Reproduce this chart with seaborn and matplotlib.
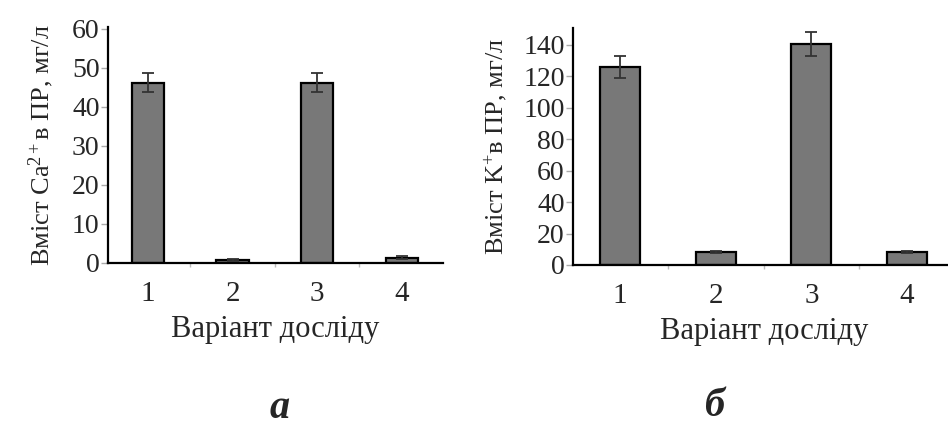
import matplotlib
matplotlib.use("Agg")
import matplotlib.pyplot as plt
import seaborn as sns
import pandas as pd
from matplotlib.ticker import FixedLocator

# ---- data ----
variants = ["1", "2", "3", "4"]
ca_values = [46.2, 0.8, 46.2, 1.4]
ca_errors = [2.4, 0.2, 2.4, 0.3]
k_values = [125.5, 8.0, 140.5, 8.0]
k_errors = [7.0, 0.6, 7.5, 0.6]
ca_ticks = [0, 10, 20, 30, 40, 50, 60]
k_ticks = [0, 20, 40, 60, 80, 100, 120, 140]
xlabel_text = "Варіант досліду"
ca_ylabel = "Вміст Ca$^{2+}$в ПР, мг/л"
k_ylabel = "Вміст K$^{+}$в ПР, мг/л"
panel_letters = ["а", "б"]

sns.set_theme(style="white")
plt.rcParams["font.family"] = ["Liberation Serif", "DejaVu Serif"]
plt.rcParams["mathtext.fontset"] = "custom"
plt.rcParams["mathtext.rm"] = "Liberation Serif"
plt.rcParams["mathtext.it"] = "Liberation Serif:italic"
plt.rcParams["mathtext.bf"] = "Liberation Serif:bold"

W, H = 948, 426
fig = plt.figure(figsize=(W / 100, H / 100), dpi=100)

def px_axes(left, top, right, bottom):
    return fig.add_axes([left / W, 1 - bottom / H, (right - left) / W, (bottom - top) / H])

ax1 = px_axes(108, 27, 443, 263)
ax2 = px_axes(573, 28, 955, 265)

def draw(ax, vals, errs, ticks, ylim, xlim, width, ylabel, labelx):
    df = pd.DataFrame({"variant": variants, "value": vals})
    sns.barplot(data=df, x="variant", y="value", ax=ax, color="#787878",
                saturation=1, width=width, edgecolor="black", linewidth=1.6,
                errorbar=None)
    ax.errorbar(x=list(range(len(variants))), y=vals, yerr=errs, fmt="none",
                ecolor="#333333", elinewidth=1.3, capsize=4, capthick=1.3, zorder=5)
    ax.set_ylim(*ylim)
    ax.set_xlim(*xlim)
    ax.set_yticks(ticks)
    ax.set_yticklabels([str(t) for t in ticks], fontsize=20)
    ax.set_xticks(range(len(variants)))
    ax.set_xticklabels(variants, fontsize=21)
    ax.xaxis.set_minor_locator(FixedLocator([0.5, 1.5, 2.5]))
    ax.tick_params(axis="x", which="major", length=0, pad=13)
    ax.tick_params(axis="x", which="minor", length=3, width=1, color="#bbbbbb", bottom=True)
    ax.tick_params(axis="y", which="major", length=5, width=1, color="#aaaaaa", pad=1, left=True)
    ax.set_xlabel(xlabel_text, fontsize=22, labelpad=6)
    ax.set_ylabel(ylabel, fontsize=19)
    ax.yaxis.set_label_coords(labelx, 0.5)
    for s in ["top", "right"]:
        ax.spines[s].set_visible(False)
    for s in ["left", "bottom"]:
        ax.spines[s].set_color("black")
        ax.spines[s].set_linewidth(1.6)
    ax.set_facecolor("white")
    ax.grid(False)

draw(ax1, ca_values, ca_errors, ca_ticks, (0, 60.5), (-0.473, 3.49), 0.38,
     ca_ylabel, -0.155)
draw(ax2, k_values, k_errors, k_ticks, (0, 150.5), (-0.49, 3.5), 0.42,
     k_ylabel, -0.165)

fig.text(280 / W, 1 - 409 / H, panel_letters[0], fontsize=29, fontweight="bold",
         fontstyle="italic", ha="center", va="center")
fig.text(714 / W, 1 - 406 / H, panel_letters[1], fontsize=29, fontweight="bold",
         fontstyle="italic", ha="center", va="center")

fig.savefig("out.png", dpi=100, facecolor="white")
